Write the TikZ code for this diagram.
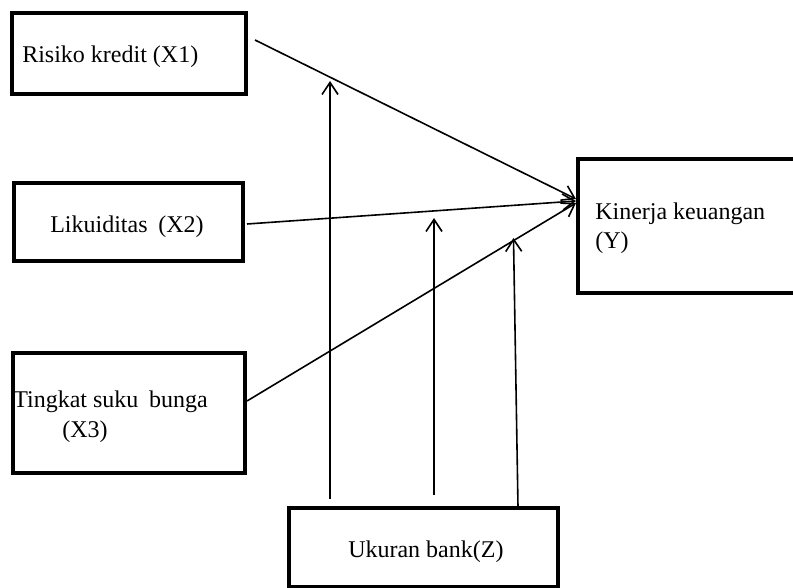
\documentclass[tikz,border=0pt]{standalone}
\usepackage{fontspec}
\setmainfont{Liberation Serif}
\usetikzlibrary{arrows.meta,fit}
\begin{document}
\begin{tikzpicture}[x=0.75pt,y=-0.75pt,
  box/.style={draw,line width=2.8pt,inner sep=0pt},
  lbl/.style={anchor=base west,inner sep=0pt,font=\fontsize{18}{21}\selectfont},
  conn/.style={line width=1.2pt,-{Straight Barb[length=9pt,width=12pt]}}]
\useasboundingbox (0,0) rectangle (793,588);
% boxes
\node[box,fit={(12,13) (246,94)}] (x1) {};
\node[box,fit={(14,183) (243,261)}] (x2) {};
\node[box,fit={(13,353) (245,473)}] (x3) {};
\node[box,fit={(578,159) (805,293)}] (y) {};
\node[box,fit={(289,508) (558,587)}] (z) {};
% labels
\node[lbl] (t1) at (22,63) {Risiko kredit (X1)};
\node[lbl] (t2) at (50,233) {Likuiditas\hspace{0.45em}(X2)};
\node[lbl] (t3a) at (13,407) {Tingkat suku\hspace{0.45em}bunga};
\node[lbl] (t3b) at (62,437) {(X3)};
\node[lbl] (ty1) at (595,220) {Kinerja keuangan};
\node[lbl] (ty2) at (595,248) {(Y)};
\node[lbl] (tz) at (348,557) {Ukuran bank(Z)};
% connector endpoints
\coordinate (s1) at (255,40);
\coordinate (s2) at (247,224);
\coordinate (s3) at (247,401);
\coordinate (e1) at (576,199);
\coordinate (e2) at (576,201);
\coordinate (e3) at (576,203);
\coordinate (b1) at (330,499);
\coordinate (b2) at (434,495);
\coordinate (b3) at (518,507);
\coordinate (u1) at (330,81);
\coordinate (u2) at (434,218);
\coordinate (u3) at (513.5,238);
% connectors
\draw[conn] (s1) -- (e1);
\draw[conn] (s2) -- (e2);
\draw[conn] (s3) -- (e3);
\draw[conn] (b1) -- (u1);
\draw[conn] (b2) -- (u2);
\draw[conn] (b3) -- (u3);
\end{tikzpicture}
\end{document}
